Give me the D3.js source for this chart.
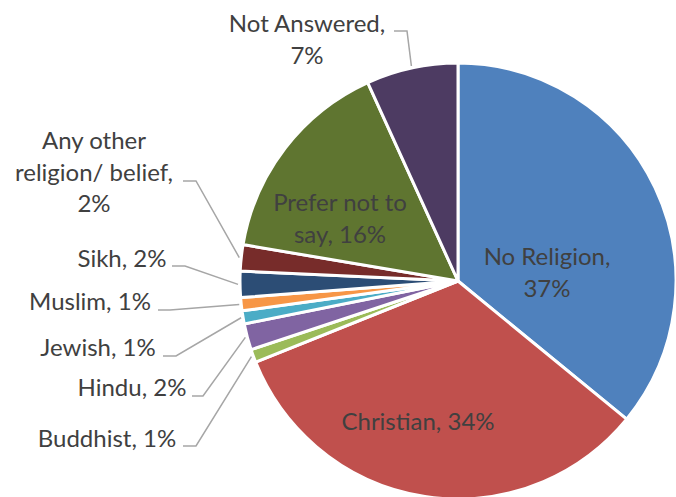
<!DOCTYPE html>
<html>
<head>
<meta charset="utf-8">
<script src="https://cdn.jsdelivr.net/npm/d3@7/dist/d3.min.js"></script>
<style>
  html, body { margin: 0; padding: 0; background: #fff; }
  svg { display: block; }
  text { font-family: "Lato", "Open Sans", sans-serif; fill: #404040; }
</style>
</head>
<body>
<svg id="chart" width="676" height="497"></svg>
<script>
// ---- data ----
const categories = ["No Religion", "Christian", "Buddhist", "Hindu", "Jewish", "Muslim", "Sikh", "Any other religion/ belief", "Prefer not to say", "Not Answered"];
const values = [37, 34, 1, 2, 1, 1, 2, 2, 16, 7];
const labelLines = [
  ["No Religion,", "37%"],
  ["Christian, 34%"],
  ["Buddhist, 1%"],
  ["Hindu, 2%"],
  ["Jewish, 1%"],
  ["Muslim, 1%"],
  ["Sikh, 2%"],
  ["Any other", "religion/ belief,", "2%"],
  ["Prefer not to", "say, 16%"],
  ["Not Answered,", "7%"]
];
const colors = ["#4F81BD", "#C0504D", "#9BBB59", "#8064A2", "#4BACC6", "#F79646", "#2C4D75", "#772C2A", "#5F7530", "#4D3B62"];

// ---- layout ----
const cx = 458, cy = 281, R = 218;
const fontSize = 24, lineH = 31.5;
// label placement: inside labels (no leader) or outside with leader
const labelLayout = [
  { x: 547, y: 265 },
  { x: 418, y: 430 },
  { x: 107, y: 447, lx: 183, ly: 446, ex: 196 },
  { x: 132, y: 396, lx: 192, ly: 396, ex: 203 },
  { x: 98,  y: 356, lx: 163, ly: 356, ex: 176 },
  { x: 90,  y: 310, lx: 158, ly: 310, ex: 170 },
  { x: 122, y: 267, lx: 172, ly: 266, ex: 185 },
  { x: 94,  y: 149, lx: 183, ly: 181, ex: 196 },
  { x: 340, y: 211 },
  { x: 307, y: 32,  lx: 394, ly: 31,  ex: 407 }
];

const svg = d3.select("#chart");
const g = svg.append("g").attr("transform", `translate(${cx},${cy})`);

const pie = d3.pie().sort(null).value(d => d.v);
const data = categories.map((c, i) => ({ c, v: values[i], i }));
const arcs = pie(data);
const arc = d3.arc().innerRadius(0).outerRadius(R);
const leaderArc = d3.arc().innerRadius(R + 2).outerRadius(R + 2);

g.selectAll("path.slice")
  .data(arcs)
  .join("path")
  .attr("class", "slice")
  .attr("d", arc)
  .attr("fill", d => colors[d.data.i])
  .attr("stroke", "#fff")
  .attr("stroke-width", 3)
  .attr("stroke-linejoin", "round");

// leader lines
arcs.forEach(a => {
  const L = labelLayout[a.data.i];
  if (L.lx === undefined) return;
  const p = leaderArc.centroid(a);
  const pts = [[L.lx, L.ly], [L.ex, L.ly], [p[0] + cx, p[1] + cy]];
  svg.append("path")
    .attr("d", d3.line()(pts))
    .attr("fill", "none")
    .attr("stroke", "#A6A6A6")
    .attr("stroke-width", 1.5);
});

// labels
arcs.forEach(a => {
  const L = labelLayout[a.data.i];
  const t = svg.append("text")
    .attr("text-anchor", "middle")
    .attr("font-size", fontSize);
  labelLines[a.data.i].forEach((ln, k) => {
    t.append("tspan").attr("x", L.x).attr("y", L.y + k * lineH).text(ln);
  });
});
</script>
</body>
</html>
